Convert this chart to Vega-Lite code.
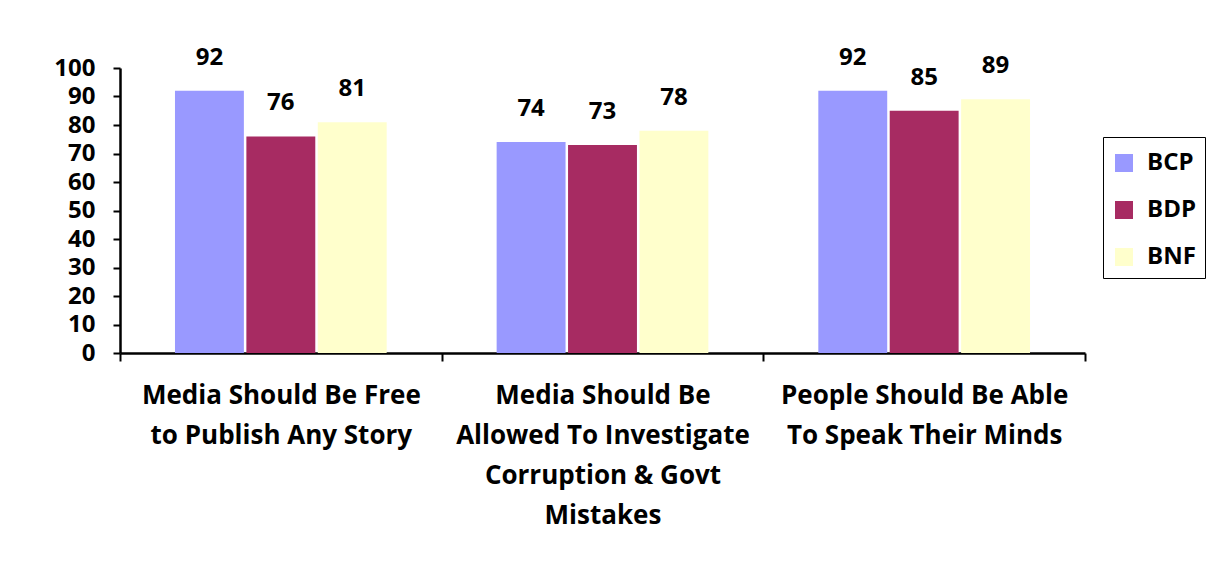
{
  "$schema": "https://vega.github.io/schema/vega-lite/v6.json",
  "width": 965,
  "height": 285,
  "autosize": {"type": "none"},
  "padding": {"left": 120, "top": 68, "right": 133, "bottom": 220},
  "background": "white",
  "config": {
    "view": {"stroke": null},
    "font": "Open Sans"
  },
  "data": {
    "values": [
      {"statement": "Media Should Be Free|to Publish Any Story", "party": "BCP", "value": 92},
      {"statement": "Media Should Be Free|to Publish Any Story", "party": "BDP", "value": 76},
      {"statement": "Media Should Be Free|to Publish Any Story", "party": "BNF", "value": 81},
      {"statement": "Media Should Be|Allowed To Investigate|Corruption & Govt|Mistakes", "party": "BCP", "value": 74},
      {"statement": "Media Should Be|Allowed To Investigate|Corruption & Govt|Mistakes", "party": "BDP", "value": 73},
      {"statement": "Media Should Be|Allowed To Investigate|Corruption & Govt|Mistakes", "party": "BNF", "value": 78},
      {"statement": "People Should Be Able|To Speak Their Minds", "party": "BCP", "value": 92},
      {"statement": "People Should Be Able|To Speak Their Minds", "party": "BDP", "value": 85},
      {"statement": "People Should Be Able|To Speak Their Minds", "party": "BNF", "value": 89}
    ]
  },
  "encoding": {
    "x": {
      "field": "statement",
      "type": "nominal",
      "sort": null,
      "scale": {"paddingInner": 0, "paddingOuter": 0},
      "axis": {
        "title": null,
        "labelAngle": 0,
        "labelExpr": "isValid(datum.value) ? split(datum.value, '|') : ''",
        "labelFont": "Open Sans",
        "labelFontSize": 26,
        "labelFontWeight": "bold",
        "labelColor": "black",
        "labelLineHeight": 40,
        "labelPadding": 21,
        "labelLimit": 400,
        "tickBand": "extent",
        "tickSize": 8,
        "tickWidth": 2,
        "tickColor": "black",
        "domainColor": "black",
        "domainWidth": 2.5
      }
    },
    "xOffset": {
      "field": "party",
      "type": "nominal",
      "scale": {"paddingInner": 0.035, "paddingOuter": 0.77}
    },
    "y": {
      "field": "value",
      "type": "quantitative",
      "scale": {"domain": [0, 100], "nice": false},
      "axis": {
        "title": null,
        "values": [0, 10, 20, 30, 40, 50, 60, 70, 80, 90, 100],
        "grid": false,
        "labelFont": "Open Sans",
        "labelFontSize": 24,
        "labelFontWeight": "bold",
        "labelColor": "black",
        "labelPadding": 18,
        "tickSize": 7,
        "tickWidth": 2,
        "tickColor": "black",
        "domainColor": "black",
        "domainWidth": 2.5
      }
    }
  },
  "layer": [
    {
      "mark": {"type": "bar"},
      "encoding": {
        "color": {
          "field": "party",
          "type": "nominal",
          "scale": {"domain": ["BCP", "BDP", "BNF"], "range": ["#9999FF", "#A72B62", "#FFFFCC"]},
          "legend": {
            "title": " ",
            "titleFontSize": 2,
            "titlePadding": 3,
            "orient": "none",
            "legendX": 983,
            "legendY": 69,
            "direction": "vertical",
            "strokeColor": "black",
            "padding": 9,
            "symbolType": "square",
            "symbolSize": 324,
            "symbolStrokeWidth": 0,
            "labelFont": "Open Sans",
            "labelFontSize": 24,
            "labelFontWeight": "bold",
            "labelColor": "black",
            "rowPadding": 23,
            "labelOffset": 11
          }
        }
      }
    },
    {
      "mark": {"type": "text", "baseline": "bottom", "dy": -21, "font": "Open Sans", "fontSize": 24, "fontWeight": "bold", "color": "black"},
      "encoding": {
        "text": {"field": "value", "type": "quantitative"}
      }
    }
  ]
}
